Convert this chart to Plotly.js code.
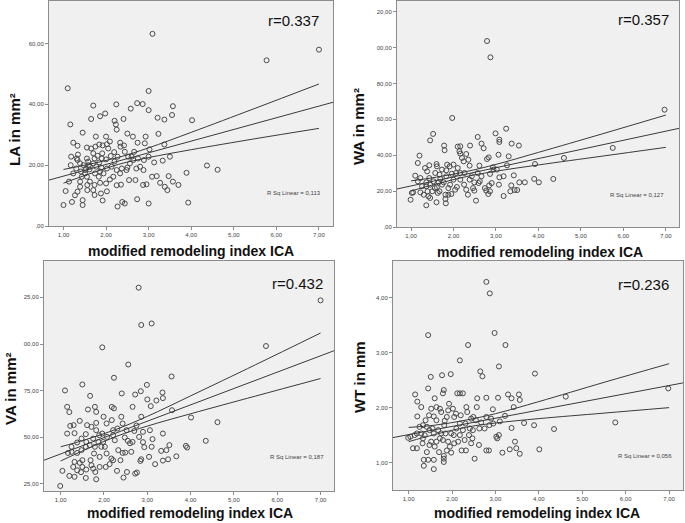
<!DOCTYPE html>
<html>
<head>
<meta charset="utf-8">
<script src="https://cdn.plot.ly/plotly-3.0.1.min.js"></script>
<style>
  html, body { margin: 0; padding: 0; background: #fff; }
  #plot { width: 685px; height: 523px; }
</style>
</head>
<body>
<div id="plot"></div>
<script>
// x = modified remodeling index ICA, one x/y array per panel
let laX = [3.09,5.77,7.0,1.10,3.0,1.16,1.45,1.70,1.65,1.86,
  1.98,2.24,2.73,2.86,3.0,2.58,2.41,2.20,2.23,2.25,
  2.5,2.63,2.93,3.21,3.37,3.57,3.55,4.02,3.23,3.37,
  2.74,2.91,3.02,3.13,3.33,3.5,4.37,4.62,3.89,3.93,
  3.0,1.0,1.2,1.45,1.45,1.92,2.27,2.38,2.44,2.73,
  1.05,2.87,2.95,3.08,3.19,3.27,3.38,3.44,3.47,3.57,
  3.7,2.69,2.54,2.48,2.5,2.35,2.25,2.09,2.02,1.88,
  1.73,1.56,1.70,1.27,1.33,1.39,1.13,1.39,1.23,1.3,
  1.17,1.31,1.18,1.34,1.23,1.33,1.55,1.65,1.75,1.70,
  1.84,1.92,2.02,2.0,1.76,1.8,1.9,2.0,2.11,2.19,
  2.34,2.33,2.42,2.27,2.2,1.84,1.70,1.59,1.47,1.53,
  1.62,1.61,1.51,1.43,1.55,1.74,1.86,1.83,1.94,2.02,
  2.13,2.25,2.37,2.56,2.64,2.75,2.89,2.8,2.88,2.71,
  2.33,2.17,2.0,1.86,1.73,1.62,1.56,1.51,2.6,2.44,
  2.52,1.55,1.58,1.91,2.05,2.09,2.66,3.0,1.33,1.39,
  1.41,1.73,1.77,1.89]
let laY = [63.2,54.5,58.0,45.3,44.4,33.4,30.7,39.6,35.2,36.1,
  37.0,40.0,40.4,40.1,38.1,38.6,35.2,34.6,33.4,31.7,
  30.4,29.4,29.4,35.6,35.0,39.4,36.5,34.8,30.3,26.8,
  27.4,27.2,25.2,20.9,21.5,22.8,19.9,18.5,17.5,7.7,
  7.4,6.9,7.9,6.9,8.5,8.4,6.4,7.9,7.4,8.8,
  11.5,13.5,13.7,16.2,16.4,14.2,12.9,11.8,16.4,14.6,
  13.5,15.1,15.1,18.4,19.2,13.6,13.4,15.3,11.4,10.7,
  10.2,11.8,11.8,10.1,11.3,12.9,14.6,14.6,17.3,18.9,
  20.0,22.2,22.8,23.5,27.4,26.4,25.8,25.5,26.1,23.9,
  26.8,26.5,26.9,29.4,29.4,23.1,22.2,21.9,23.0,24.3,
  26.1,27.4,26.5,22.8,21.2,20.9,20.6,20.0,20.0,18.9,
  19.5,18.6,17.3,16.2,16.2,17.3,17.9,16.2,17.3,18.9,
  19.5,18.4,18.9,20.6,21.7,22.2,21.7,19.5,18.4,18.9,
  17.3,16.2,14.0,14.2,13.5,14.6,13.5,18.4,22.8,24.4,
  22.8,22.2,21.2,23.9,25.5,27.8,24.4,22.8,21.7,20.6,
  17.9,22.2,19.5,19.2]

let waX = [2.79,2.87,6.97,5.75,1.97,4.6,4.35,4.01,3.9,3.92,
  3.68,3.55,3.54,3.37,3.24,2.99,3.08,3.08,2.57,2.66,
  2.71,2.39,2.16,2.1,2.14,2.16,1.78,1.79,1.52,1.45,
  1.2,1.16,1.1,1.02,0.99,1.05,1.22,1.33,1.43,1.38,
  1.6,1.61,1.36,1.6,1.82,1.88,1.81,1.45,1.41,2.53,
  3.18,3.44,3.5,3.34,3.42,3.36,3.07,3.08,3.26,3.3,
  3.06,2.86,2.93,2.83,2.79,2.86,2.77,2.82,2.74,2.84,
  2.57,2.61,2.49,2.46,2.49,2.34,2.3,2.25,2.43,2.38,
  2.24,2.2,2.3,2.35,2.0,1.91,1.85,2.06,2.0,2.08,
  2.04,1.88,1.95,1.73,1.69,1.67,1.53,1.45,1.36,1.26,
  1.22,1.16,1.61,1.67,1.77,1.83,1.96,2.16,2.16,1.83,
  1.73,1.57,2.1,2.26,2.62,2.66,2.94,3.02,2.9,3.18,
  2.59,1.92,1.63,1.5,1.56,1.39,1.30,1.43,1.65,2.38,
  1.81,1.36]
let waY = [103.7,94.6,65.4,44.1,60.8,38.5,26.8,24.9,26.8,35.1,
  24.9,24.9,45.4,46.5,54.8,52.2,48.7,47.4,50.2,46.5,
  43.9,45.4,45.0,44.8,42.2,40.9,45.4,42.8,51.9,48.3,
  39.8,35.7,28.6,19.0,15.2,19.3,19.3,32.9,34.4,31.0,
  35.1,33.8,12.1,13.8,13.2,18.0,18.0,16.2,17.1,14.7,
  17.3,20.6,20.6,19.9,28.8,23.2,23.6,27.7,34.4,39.4,
  40.3,29.6,33.3,38.8,37.9,19.9,20.3,18.4,21.7,23.2,
  30.1,34.2,24.9,21.7,20.3,18.0,20.8,23.6,28.3,34.2,
  36.6,38.5,40.7,37.5,34.8,33.8,34.8,30.1,26.4,22.3,
  20.8,21.7,18.4,23.6,26.8,29.2,25.5,23.6,24.9,22.7,
  27.3,25.5,22.1,19.9,24.9,28.3,29.7,30.1,26.4,31.6,
  32.0,30.1,32.9,30.1,25.5,28.3,32.0,32.0,24.5,28.3,
  24.5,23.6,19.0,19.9,21.7,19.9,18.0,27.3,24.9,26.4,
  15.6,22.7]

let vaX = [2.80,7.0,3.10,2.86,5.74,1.96,2.56,2.23,3.56,1.10,
  1.50,1.68,2.99,3.35,2.85,2.72,2.41,1.15,1.20,1.63,
  1.79,1.82,2.18,2.23,2.66,3.0,3.21,3.36,3.08,3.57,
  4.01,4.62,4.35,3.89,3.92,3.67,3.48,3.36,3.44,3.32,
  3.51,3.18,3.12,3.10,3.06,2.9,2.93,2.86,2.84,2.76,
  2.72,2.53,2.30,2.45,2.49,2.43,2.60,2.66,2.70,2.75,
  2.86,2.9,2.81,2.52,2.43,2.40,2.31,2.21,2.18,2.21,
  2.25,2.33,2.38,2.21,2.17,2.13,2.04,2.06,1.90,1.80,
  1.82,1.58,1.32,1.20,0.99,1.04,1.29,1.32,1.44,1.50,
  1.47,1.59,1.71,1.69,1.77,1.79,1.67,1.58,1.48,1.38,
  1.25,1.17,1.25,1.38,1.48,1.32,1.22,1.15,1.30,1.44,
  1.58,1.61,1.71,1.82,1.89,1.96,1.98,2.07,1.87,1.75,
  1.59,1.94,2.02,2.06,1.82,1.99,2.63,2.55,3.04,3.36,
  2.48,1.90,1.75,1.38,1.50]
let vaY = [130.2,123.4,111.0,110.2,98.9,98.2,89.0,81.9,82.6,75.1,
  78.3,72.2,78.1,74.0,74.7,72.9,73.5,66.3,63.5,64.9,
  66.3,63.6,66.3,65.5,66.3,70.3,69.7,71.0,66.7,64.5,
  60.6,58.1,48.1,45.4,44.5,39.8,38.2,37.5,43.1,42.7,
  45.8,35.6,49.0,44.9,53.8,47.4,44.7,38.2,37.3,31.1,
  30.5,31.4,32.0,28.4,41.8,41.6,46.8,47.5,53.4,56.3,
  61.0,52.9,50.2,53.8,57.4,61.0,54.7,53.8,59.2,51.1,
  48.4,43.1,37.7,37.7,38.6,35.6,34.1,41.3,39.5,31.4,
  27.5,28.2,28.8,29.3,23.9,32.0,34.1,36.8,36.3,37.7,
  31.3,32.7,35.0,37.7,41.3,44.9,45.8,44.9,43.1,41.6,
  42.2,41.6,44.9,47.2,49.3,52.2,56.1,52.0,56.5,58.8,
  51.7,56.5,55.6,53.8,51.1,52.0,47.5,50.2,47.5,49.3,
  47.5,44.9,44.9,57.4,57.7,61.0,42.2,48.1,39.5,52.0,
  49.9,34.1,33.2,32.3,34.1]

let wtX = [2.79,2.87,1.45,2.98,2.37,3.23,2.18,2.65,2.70,3.08,
  3.91,1.97,1.77,1.51,1.45,1.15,1.20,1.20,1.60,1.81,
  1.79,2.12,2.18,2.25,2.58,2.79,3.06,3.29,3.37,3.54,
  3.56,3.42,4.62,6.98,5.76,4.35,3.89,3.66,3.37,3.10,
  3.22,4.01,3.56,3.48,3.45,3.33,3.16,3.04,3.02,3.08,
  2.85,2.79,2.52,2.62,2.63,2.75,2.79,2.90,2.94,2.86,
  2.55,2.57,2.49,2.44,2.33,2.35,2.31,2.25,2.18,2.10,
  2.05,2.09,2.02,1.93,1.91,1.88,1.83,1.82,1.75,1.72,
  1.64,1.58,1.64,1.55,1.48,1.42,1.37,1.29,1.19,1.14,
  0.99,1.04,1.10,1.19,1.32,1.35,1.45,1.58,1.35,1.58,
  1.81,1.81,1.81,1.70,1.60,1.48,1.42,1.52,1.64,1.72,
  1.75,1.85,1.91,1.95,1.88,1.98,2.05,2.14,2.22,2.32,
  2.29,2.39,2.47,2.44,2.48,2.18,1.98,2.04,1.33,1.25,
  1.39,1.47,1.52,1.29,1.68,1.79,1.33,1.58,2.67,2.95,
  2.41,2.20]
let wtY = [4.29,4.08,3.32,3.36,3.14,3.14,2.86,2.66,2.57,2.75,
  2.62,2.61,2.59,2.56,2.35,2.24,2.11,1.84,2.17,2.32,
  2.26,2.26,2.26,2.26,2.17,2.18,2.18,2.24,2.17,2.24,
  2.14,2.01,2.20,2.35,1.73,1.61,1.68,1.72,1.63,1.75,
  1.85,1.24,1.16,1.26,1.38,1.24,1.18,1.44,1.47,1.50,
  1.22,1.22,1.07,1.32,1.62,1.62,1.83,1.80,1.97,1.68,
  1.77,2.01,1.83,1.80,2.01,1.92,1.71,1.59,1.50,1.62,
  1.83,1.89,1.98,2.07,1.95,1.83,1.76,1.68,1.92,1.98,
  2.01,1.84,1.77,1.62,1.59,1.65,1.50,1.53,1.53,1.50,
  1.45,1.47,1.26,1.26,1.35,1.05,1.05,1.05,0.94,0.88,
  1.01,1.07,1.12,1.19,1.29,1.32,1.19,1.38,1.38,1.44,
  1.53,1.53,1.38,1.29,1.22,1.18,1.35,1.38,1.22,1.22,
  1.41,1.50,1.44,1.35,1.59,1.71,1.53,1.50,1.68,1.65,
  1.77,1.86,1.98,2.01,1.59,1.41,1.44,1.53,1.73,1.71,
  1.62,1.86]

// fit line (edge to edge) and 95% band read at bandX
let bandX = [1, 1.6, 2.3, 3, 4, 5.5, 7]
let laFitX = [0.66, 7.33], laFitY = [15.1, 40.7]
let laUpper = [18.6, 20.3, 22.6, 25.7, 30.8, 38.7, 46.7]
let laLower = [14.1, 17.1, 20.3, 22.5, 25.1, 28.7, 32.1]
let waFitX = [0.67, 7.31], waFitY = [21.2, 55.0]
let waUpper = [25.7, 27.8, 30.9, 34.9, 41.6, 51.9, 62.4]
let waLower = [20.1, 24.0, 28.1, 31.1, 34.6, 39.5, 44.4]
let vaFitX = [0.615, 7.31], vaFitY = [37.7, 96.4]
let vaUpper = [44.9, 48.9, 54.4, 61.2, 72.2, 88.9, 105.9]
let vaLower = [37.3, 43.7, 50.6, 56.0, 62.6, 72.1, 81.5]
let wtFitX = [0.64, 7.32], wtFitY = [1.455, 2.45]
let wtUpper = [1.64, 1.68, 1.77, 1.89, 2.11, 2.46, 2.80]
let wtLower = [1.38, 1.51, 1.64, 1.72, 1.80, 1.90, 2.00]

let xTicks = [1, 2, 3, 4, 5, 6, 7]
let xTickText = ["1,00", "2,00", "3,00", "4,00", "5,00", "6,00", "7,00"]
let laTicks = [0, 20, 40, 60], laTickText = [",00", "20,00", "40,00", "60,00"]
let waTicks = [0, 20, 40, 60, 80, 100, 120]
let waTickText = [",00", "20,00", "40,00", "60,00", "80,00", "00,00", "20,00"]
let vaTicks = [25, 50, 75, 100, 125]
let vaTickText = ["25,00", "50,00", "75,00", "00,00", "25,00"]
let wtTicks = [1, 2, 3, 4], wtTickText = ["1,00", "2,00", "3,00", "4,00"]

let yTitles = ["LA in mm²", "WA in mm²", "VA in mm²", "WT in mm"]
let rLabels = ["r=0.337", "r=0.357", "r=0.432", "r=0.236"]
let rsqLabels = ["R Sq Linear = 0,113", "R Sq Linear = 0,127", "R Sq Linear = 0,187", "R Sq Linear = 0,056"]
let xTitle = "modified remodeling index ICA"

const W = 685, H = 523
function px(x) { return x / W }
function py(y) { return 1 - y / H }

let lineStyle = { color: "#3a3a3a", width: 1 }
let font = "Liberation Sans, Arial, sans-serif"

function panel(n, xs, ys, fitX, fitY, upper, lower) {
  let xa = n == 1 ? "x" : "x" + n
  let ya = n == 1 ? "y" : "y" + n
  return [
    { x: xs, y: ys, xaxis: xa, yaxis: ya, type: "scatter", mode: "markers",
      marker: { symbol: "circle-open", size: 5, color: "#4a4a4a", line: { width: 1 } } },
    { x: fitX, y: fitY, xaxis: xa, yaxis: ya, type: "scatter", mode: "lines", line: lineStyle },
    { x: bandX, y: upper, xaxis: xa, yaxis: ya, type: "scatter", mode: "lines",
      line: Object.assign({ shape: "spline" }, lineStyle) },
    { x: bandX, y: lower, xaxis: xa, yaxis: ya, type: "scatter", mode: "lines",
      line: Object.assign({ shape: "spline" }, lineStyle) }
  ]
}

let data = [].concat(
  panel(1, laX, laY, laFitX, laFitY, laUpper, laLower),
  panel(2, waX, waY, waFitX, waFitY, waUpper, waLower),
  panel(3, vaX, vaY, vaFitX, vaFitY, vaUpper, vaLower),
  panel(4, wtX, wtY, wtFitX, wtFitY, wtUpper, wtLower)
)

let axisBase = {
  showgrid: false, zeroline: false, showline: true, mirror: true,
  linecolor: "#8c8c8c", linewidth: 1,
  ticks: "outside", ticklen: 3, tickcolor: "#8c8c8c",
  tickfont: { family: font, size: 6, color: "#444" },
  tickmode: "array"
}
function xAxis(x0, x1, range, anchor) {
  return Object.assign({}, axisBase, { domain: [px(x0), px(x1)], range: range, anchor: anchor,
    tickvals: xTicks, ticktext: xTickText })
}
function yAxis(y0, y1, range, anchor, vals, text) {
  return Object.assign({}, axisBase, { domain: [py(y1), py(y0)], range: range, anchor: anchor,
    tickvals: vals, ticktext: text })
}

// pixel boxes of the four plot areas
let boxes = [[49, 1, 333, 226], [397, 1, 679, 227], [44, 261, 334, 491], [393, 261, 683, 490]]

let annotations = []
let yTitlePos = [[14, 130], [358, 127], [10, 389], [359, 377]]
let xTitlePos = [[191, 251], [540, 252], [190, 523], [537, 523]]
let xTitleAnchor = ["middle", "middle", "bottom", "bottom"]
let rPos = [[293, 21], [643, 20], [297, 283], [643, 284]]
let rsqPos = [[294, 193], [637, 195], [297, 457], [645, 456]]
for (let i = 0; i < 4; i++) {
  annotations.push({ text: "<b>" + yTitles[i] + "</b>", textangle: -90, xref: "paper", yref: "paper",
    x: px(yTitlePos[i][0]), y: py(yTitlePos[i][1]), showarrow: false, xanchor: "center", yanchor: "middle",
    font: { family: font, size: 15, color: "#111" } })
  annotations.push({ text: "<b>" + xTitle + "</b>", xref: "paper", yref: "paper",
    x: px(xTitlePos[i][0]), y: py(xTitlePos[i][1]), showarrow: false, xanchor: "center", yanchor: xTitleAnchor[i],
    font: { family: font, size: 14, color: "#111" } })
  annotations.push({ text: rLabels[i], xref: "paper", yref: "paper",
    x: px(rPos[i][0]), y: py(rPos[i][1]), showarrow: false, xanchor: "center", yanchor: "middle",
    font: { family: font, size: 15, color: "#111" } })
  annotations.push({ text: rsqLabels[i], xref: "paper", yref: "paper",
    x: px(rsqPos[i][0]), y: py(rsqPos[i][1]), showarrow: false, xanchor: "center", yanchor: "middle",
    font: { family: font, size: 6, color: "#444" } })
}

let layout = {
  width: W, height: H,
  margin: { l: 0, r: 0, t: 0, b: 0 },
  paper_bgcolor: "#ffffff", plot_bgcolor: "#f0f0f0",
  showlegend: false,
  xaxis: xAxis(boxes[0][0], boxes[0][2], [0.66, 7.33], "y"),
  yaxis: yAxis(boxes[0][1], boxes[0][3], [0, 74], "x", laTicks, laTickText),
  xaxis2: xAxis(boxes[1][0], boxes[1][2], [0.67, 7.31], "y2"),
  yaxis2: yAxis(boxes[1][1], boxes[1][3], [0, 126], "x2", waTicks, waTickText),
  xaxis3: xAxis(boxes[2][0], boxes[2][2], [0.615, 7.31], "y3"),
  yaxis3: yAxis(boxes[2][1], boxes[2][3], [21.2, 144.5], "x3", vaTicks, vaTickText),
  xaxis4: xAxis(boxes[3][0], boxes[3][2], [0.64, 7.32], "y4"),
  yaxis4: yAxis(boxes[3][1], boxes[3][3], [0.5, 4.67], "x4", wtTicks, wtTickText),
  annotations: annotations
}

Plotly.newPlot("plot", data, layout, { displayModeBar: false, staticPlot: true })
</script>
</body>
</html>
